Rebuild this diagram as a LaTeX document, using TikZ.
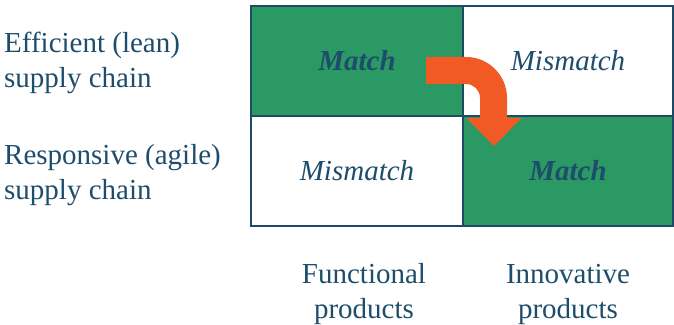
\documentclass[tikz,border=0pt]{standalone}
\usepackage{fontspec}
\setmainfont{Liberation Serif}
\usepackage{xcolor}
\usetikzlibrary{positioning}

\definecolor{matchgreen}{HTML}{2B9963}
\definecolor{flowred}{HTML}{F15A24}
\definecolor{inkblue}{HTML}{1E4D6B}
\definecolor{gridblue}{HTML}{1F4A66}

\begin{document}
\begin{tikzpicture}[
  x=1pt, y=1pt,
  font=\fontsize{29}{35}\selectfont,
  text=inkblue,
  cell/.style={
    rectangle, draw=gridblue, line width=1.2pt, inner sep=0pt,
    minimum width=212pt, minimum height=110pt, fill=white,
    font=\fontsize{29}{35}\selectfont\itshape
  },
  match/.style={cell, fill=matchgreen, font=\fontsize{29}{35}\selectfont\bfseries\itshape},
  lbl/.style={inner sep=0pt, align=left, anchor=base west},
  col/.style={inner sep=0pt, align=center, anchor=base}
]
\useasboundingbox (0,0) rectangle (674,324);

% 2x2 matrix
\node[match] (lean-func) at (357,263) {Match};
\node[cell, minimum width=210pt] (lean-inno) at (568,263) {Mismatch};
\node[cell] (agile-func) at (357,153) {Mismatch};
\node[match, minimum width=210pt] (agile-inno) at (568,153) {Match};

% row and column headings (base = last line)
\node[lbl] (lean) at (4,236) {Efficient (lean)\\supply chain};
\node[lbl] (agile) at (4,124) {Responsive (agile)\\supply chain};
\node[col] (func) at (364,6) {Functional\\products};
\node[col] (inno) at (568,6) {Innovative\\products};

% bent block arrow
\fill[flowred] (426,267) -- (466,267) arc[start angle=90, end angle=0, radius=41]
  -- (507,206) -- (521.5,206) -- (494,178) -- (466.5,206) -- (480,206) -- (480,226)
  arc[start angle=0, end angle=90, radius=14] -- (426,240) -- cycle;

\end{tikzpicture}
\end{document}
